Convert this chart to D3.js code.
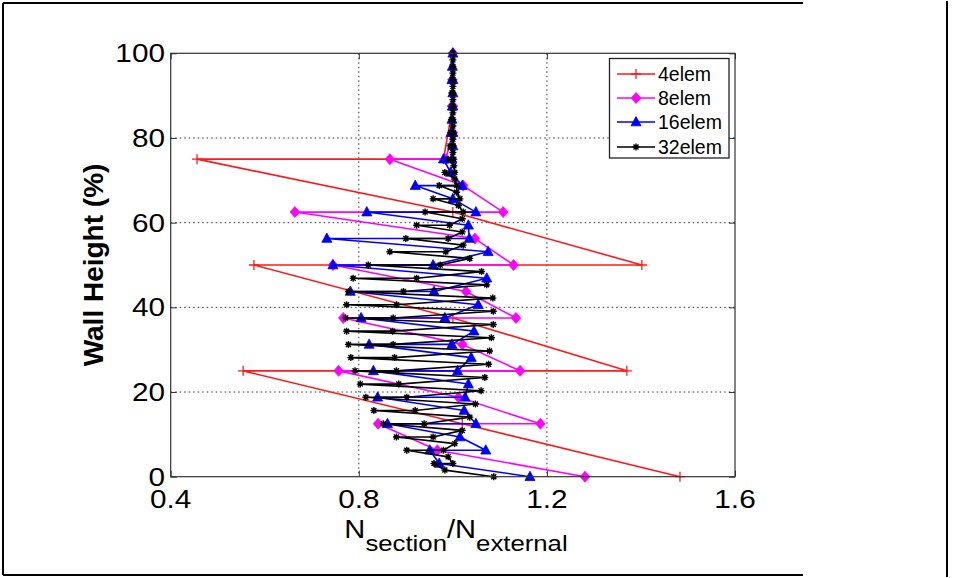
<!DOCTYPE html>
<html><head><meta charset="utf-8">
<script src="https://cdn.jsdelivr.net/npm/d3@7"></script>
<style>body{margin:0;background:#fff}svg{display:block}text{font-family:"Liberation Sans",Arial,sans-serif;fill:#000}</style>
</head><body>
<svg id="c" width="953" height="578"></svg>
<script>
// ---- data (values per element: bottom, mid, top) ----
const seriesNames = ["4elem", "8elem", "16elem", "32elem"];
const elem4 = [1.483, 1.020, 0.554, 1.370, 1.000, 0.577, 1.402, 1.000, 0.456, 0.980, 1.000, 1.000];
const elem8 = [1.281, 0.967, 0.841, 1.186, 1.012, 0.757, 1.143, 1.020, 0.767, 1.134, 1.028, 0.745,
               1.129, 1.047, 0.664, 1.107, 1.022, 0.866, 0.985, 1.000, 0.998, 1.000, 0.999, 1.000];
const elem16 = [1.164, 0.971, 0.951, 1.070, 1.015, 0.861, 1.049, 1.024, 0.840, 1.026, 1.033, 0.831,
                1.010, 1.039, 0.822, 0.998, 1.045, 0.805, 0.983, 1.054, 0.782, 0.960, 1.072, 0.745,
                0.958, 1.075, 0.732, 1.035, 1.033, 0.817, 1.049, 1.000, 0.920, 1.020, 0.995, 0.980,
                0.998, 1.000, 0.996, 1.000, 0.998, 0.999, 1.000, 1.000, 0.998, 1.000, 0.999, 1.000];
const elem32 = [1.087, 0.983, 0.960, 1.000, 0.990, 0.902, 0.980, 1.004, 0.880, 0.958, 1.020, 0.852,
                0.939, 1.036, 0.832, 0.920, 1.048, 0.815, 0.902, 1.060, 0.803, 0.885, 1.068, 0.792,
                0.880, 1.076, 0.783, 0.876, 1.078, 0.778, 0.873, 1.082, 0.774, 0.872, 1.086, 0.772,
                0.873, 1.086, 0.774, 0.880, 1.085, 0.778, 0.895, 1.072, 0.788, 0.923, 1.061, 0.820,
                0.973, 1.036, 0.866, 0.985, 1.022, 0.900, 0.990, 1.020, 0.923, 0.993, 1.020, 0.941,
                1.022, 1.012, 0.958, 1.015, 1.008, 0.971, 1.008, 1.004, 0.983, 1.004, 1.002, 0.990,
                1.002, 1.000, 0.994, 1.001, 1.000, 0.996, 1.001, 1.000, 0.997, 1.000, 1.000, 0.998,
                1.000, 1.000, 0.998, 1.000, 1.000, 0.999, 1.000, 1.000, 0.999, 1.000, 1.000, 1.000];
const xTicks = [0.4, 0.8, 1.2, 1.6];
const yTicks = [0, 20, 40, 60, 80, 100];
const xLabelParts = ["N", "section", "/N", "external"];
const yLabel = "Wall Height (%)";

const colors = ["#ff1a1a", "#ff00ff", "#0000ff", "#000000"];
const markers = ["plus", "diamond", "triangle", "star"];

// convert element triples into (value, height) points
function toPoints(vals) {
  const n = vals.length / 3;
  const pts = [];
  for (let k = 0; k < n; k++) {
    const h0 = 100 * k / n, hm = 100 * (k + 0.5) / n, h1 = 100 * (k + 1) / n;
    pts.push({x: vals[3*k], y: h0}, {x: vals[3*k+1], y: hm}, {x: vals[3*k+2], y: h1});
  }
  return pts;
}
const allSeries = [elem4, elem8, elem16, elem32].map(toPoints);

const svg = d3.select("#c");
svg.append("rect").attr("width", 953).attr("height", 578).attr("fill", "#fff");
// outer frame (scan border)
const fr = svg.append("g").attr("stroke", "#000").attr("stroke-width", 2);
fr.append("line").attr("x1", 3).attr("y1", 3).attr("x2", 803).attr("y2", 3);
fr.append("line").attr("x1", 3).attr("y1", 575).attr("x2", 803).attr("y2", 575);
fr.append("line").attr("x1", 3).attr("y1", 3).attr("x2", 3).attr("y2", 575);
fr.append("line").attr("x1", 947).attr("y1", 1).attr("x2", 947).attr("y2", 577);

const L = 170.7, R = 735, T = 53.3, B = 476.7;
const x = d3.scaleLinear().domain([0.4, 1.6]).range([L, R]);
const y = d3.scaleLinear().domain([0, 100]).range([B, T]);

// grid
const grid = svg.append("g").attr("stroke", "#333").attr("stroke-width", 1).attr("stroke-dasharray", "1.5,3");
grid.selectAll(".gx").data(xTicks.slice(1, -1)).join("line")
  .attr("x1", d => x(d)).attr("x2", d => x(d)).attr("y1", T).attr("y2", B);
grid.selectAll(".gy").data(yTicks.slice(1, -1)).join("line")
  .attr("x1", L).attr("x2", R).attr("y1", d => y(d)).attr("y2", d => y(d));

// axes (ticks inside)
svg.append("g").attr("transform", `translate(0,${B})`)
  .call(d3.axisTop(x).tickValues(xTicks).tickSize(6).tickFormat(""))
  .call(g => g.select(".domain").remove());
svg.append("g").attr("transform", `translate(0,${T})`)
  .call(d3.axisBottom(x).tickValues(xTicks).tickSize(6).tickFormat(""))
  .call(g => g.select(".domain").remove());
svg.append("g").attr("transform", `translate(${L},0)`)
  .call(d3.axisRight(y).tickValues(yTicks).tickSize(6).tickFormat(""))
  .call(g => g.select(".domain").remove());
svg.append("g").attr("transform", `translate(${R},0)`)
  .call(d3.axisLeft(y).tickValues(yTicks).tickSize(6).tickFormat(""))
  .call(g => g.select(".domain").remove());
svg.selectAll(".tick line").attr("stroke", "#333");

// tick labels
svg.selectAll(".xl").data(xTicks).join("text")
  .attr("transform", d => `translate(${x(d)},508) scale(1.19,1)`)
  .attr("text-anchor", "middle").attr("font-size", 25).text(d => d3.format(".1f")(d));
svg.selectAll(".yl").data(yTicks).join("text")
  .attr("transform", d => `translate(165,${y(d)}) scale(1.19,1)`)
  .attr("text-anchor", "end").attr("dy", "0.36em").attr("font-size", 25).text(d => d);

// axis labels
svg.append("text").attr("transform", "translate(103,265) rotate(-90)")
  .attr("text-anchor", "middle").attr("font-size", 28).attr("font-weight", "bold").text(yLabel);
const xl = svg.append("text").attr("transform", "translate(456,538) scale(1.12,1)").attr("text-anchor", "middle");
xLabelParts.forEach((p, i) => {
  const sub = i % 2 === 1;
  xl.append("tspan").attr("font-size", sub ? 23 : 26)
    .attr("dy", sub ? 13 : (i === 0 ? 0 : -13)).text(p);
});

// series
const line = d3.line().x(d => x(d.x)).y(d => y(d.y));
function drawMarker(g, type, color) {
  if (type === "plus") {
    g.append("path").attr("d", "M-5,0H5M0,-5V5").attr("stroke", color).attr("stroke-width", 1.3).attr("fill", "none");
  } else if (type === "diamond") {
    g.append("path").attr("d", "M0,-5.5L4.8,0L0,5.5L-4.8,0Z").attr("fill", color).attr("stroke", color).attr("stroke-width", 0.8);
  } else if (type === "triangle") {
    g.append("path").attr("d", "M0,-5.5L5,3.8L-5,3.8Z").attr("fill", color).attr("stroke", color).attr("stroke-width", 0.8);
  } else {
    g.append("path").attr("d", "M-3.5,0H3.5M0,-3.5V3.5M-2.5,-2.5L2.5,2.5M-2.5,2.5L2.5,-2.5").attr("stroke", color).attr("stroke-width", 1.4);
    g.append("circle").attr("r", 2).attr("fill", color);
  }
}
const plot = svg.append("g");
allSeries.forEach((pts, i) => {
  const g = plot.append("g");
  g.append("path").datum(pts).attr("d", line).attr("fill", "none")
    .attr("stroke", colors[i]).attr("stroke-width", 1.6).attr("stroke-linejoin", "round");
  g.selectAll(".m").data(pts).join("g").attr("transform", d => `translate(${x(d.x)},${y(d.y)})`)
    .each(function() { drawMarker(d3.select(this), markers[i], colors[i]); });
});

// plot frame
svg.append("rect").attr("x", L).attr("y", T).attr("width", R - L).attr("height", B - T)
  .attr("fill", "none").attr("stroke", "#333").attr("stroke-width", 1.2);

// legend
const lg = svg.append("g");
lg.append("rect").attr("x", 609.5).attr("y", 58.5).attr("width", 119.5).attr("height", 99.5)
  .attr("fill", "#fff").attr("stroke", "#222").attr("stroke-width", 1.3);
const legY = [74, 98, 122, 147];
seriesNames.forEach((nm, i) => {
  const r = lg.append("g").attr("transform", `translate(0,${legY[i]})`);
  r.append("line").attr("x1", 617).attr("x2", 655).attr("stroke", colors[i]).attr("stroke-width", 1.6);
  drawMarker(r.append("g").attr("transform", "translate(636,0)"), markers[i], colors[i]);
  r.append("text").attr("x", 658).attr("dy", "0.36em").attr("font-size", 19.5).text(nm);
});
</script>
</body></html>
